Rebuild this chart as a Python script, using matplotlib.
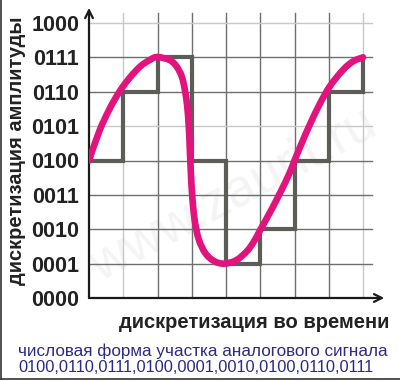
import matplotlib
matplotlib.use('Agg')
import matplotlib.pyplot as plt
from matplotlib.lines import Line2D
from matplotlib.path import Path
from matplotlib.patches import PathPatch

# quantisation levels (y axis)
levels = ['0000', '0001', '0010', '0011', '0100', '0101', '0110', '0111', '1000']

# sample moments and the quantised values held between them
sample_t = [0, 1, 2, 3, 4, 5, 6, 7, 8]
sample_v = [4, 6, 7, 4, 1, 2, 4, 6, 7]

# analog signal (time, level)
curve_t = [0.0, 0.3, 0.6, 0.9, 1.2, 1.5, 1.8, 2.0, 2.36, 2.56, 2.71, 2.8,
           2.87, 2.915, 2.945, 2.975, 3.015, 3.08, 3.2, 3.4, 3.66, 3.95,
           4.3, 4.6, 4.8, 5.0, 5.3, 5.6, 5.85, 6.0, 6.2, 6.45, 6.74, 7.04,
           7.42, 7.72, 8.0]
curve_v = [4.0, 4.85, 5.5, 6.02, 6.42, 6.74, 6.94, 7.01, 6.92, 6.73, 6.44,
           6.05, 5.56, 4.95, 4.3, 3.63, 2.95, 2.3, 1.72, 1.3, 1.07, 1.0,
           1.1, 1.35, 1.62, 1.98, 2.52, 3.1, 3.62, 4.0, 4.48, 5.05, 5.65,
           6.17, 6.64, 6.89, 7.0]

codes = '0100,0110,0111,0100,0001,0010,0100,0110,0111'

W, H = 400, 381
fig = plt.figure(figsize=(W / 100, H / 100), dpi=100)
fig.patch.set_facecolor('white')

# axes placed so that t=0 -> px 89, v=0 -> px 298
x0, y0 = 89, 298
ux, uy = 34.25, 34.375
right, top = 392, 5
ax = fig.add_axes([x0 / W, (H - y0) / H, (right - x0) / W, (y0 - top) / H])
ax.set_xlim(0, (right - x0) / ux)
ax.set_ylim(0, (y0 - top) / uy)
for s in ax.spines.values():
    s.set_visible(False)
ax.set_xticks([])
ax.set_yticks(range(len(levels)))
ax.set_yticklabels(levels, fontsize=15.5, fontweight='bold', color='#222222',
                   family='Liberation Sans')
ax.tick_params(axis='y', length=0, pad=7)

# grid
light = '#c8c8c8'
dark = '#6e6e6e'
for i in range(1, 9):
    c = light if i in (1, 8) else dark
    ax.plot([i, i], [0, 8.3], color=c, lw=1, zorder=1)
for j in range(1, 9):
    c = light if j in (5, 8) else dark
    ax.plot([0, 8.26], [j, j], color=c, lw=1, zorder=1)

# faint watermark
ax.text(4.2, 3.0, 'www.zaurit.ru', fontsize=38, color='#f4f4f4', rotation=28,
        ha='center', va='center', zorder=0, family='Liberation Sans')

# axes with arrows
ax.annotate('', xy=(8.62, 0), xytext=(0, 0),
            arrowprops=dict(arrowstyle='->', color='#1a1a1a', lw=1.6,
                            mutation_scale=14, shrinkA=0, shrinkB=0))
ax.annotate('', xy=(0, 8.44), xytext=(0, 0),
            arrowprops=dict(arrowstyle='->', color='#1a1a1a', lw=1.6,
                            mutation_scale=14, shrinkA=0, shrinkB=0))

# quantised signal
ax.step(sample_t, sample_v, where='post', color='#5d5d58', lw=3.0, zorder=3,
        solid_joinstyle='miter')

# analog signal: smooth path through the read points (Catmull-Rom as Bezier)
pts = list(zip(curve_t, curve_v))
verts = [pts[0]]
codes_path = [Path.MOVETO]
n = len(pts)
for i in range(n - 1):
    p0 = pts[max(i - 1, 0)]
    p1 = pts[i]
    p2 = pts[i + 1]
    p3 = pts[min(i + 2, n - 1)]
    c1 = (p1[0] + (p2[0] - p0[0]) / 6, p1[1] + (p2[1] - p0[1]) / 6)
    c2 = (p2[0] - (p3[0] - p1[0]) / 6, p2[1] - (p3[1] - p1[1]) / 6)
    verts += [c1, c2, p2]
    codes_path += [Path.CURVE4] * 3
ax.add_patch(PathPatch(Path(verts, codes_path), facecolor='none',
                       edgecolor='#e2137c', lw=4.8, zorder=4,
                       joinstyle='round', capstyle='round'))

# labels
fig.text(17 / W, 1 - 151 / H, 'дискретизация амплитуды', rotation=90,
         ha='center', va='center', fontsize=14.5, fontweight='bold',
         color='#222222', family='Liberation Sans')
fig.text(254 / W, 1 - 323 / H, 'дискретизация во времени',
         ha='center', va='center', fontsize=14.5, fontweight='bold',
         color='#222222', family='Liberation Sans')
fig.text(18 / W, 1 - 351 / H, 'числовая форма участка аналогового сигнала',
         ha='left', va='center', fontsize=12.35, color='#2b2b85',
         family='Liberation Sans')
fig.text(18 / W, 1 - 368 / H, codes,
         ha='left', va='center', fontsize=11.8, color='#2b2b85',
         family='Liberation Sans')

# frame on left and bottom edges
fig.add_artist(Line2D([1 / W, 1 / W], [2 / H, 1], color='#333333', lw=1.2,
                      transform=fig.transFigure))
fig.add_artist(Line2D([1 / W, 1], [2 / H, 2 / H], color='#333333', lw=1.2,
                      transform=fig.transFigure))

fig.savefig('out.png', dpi=100)
